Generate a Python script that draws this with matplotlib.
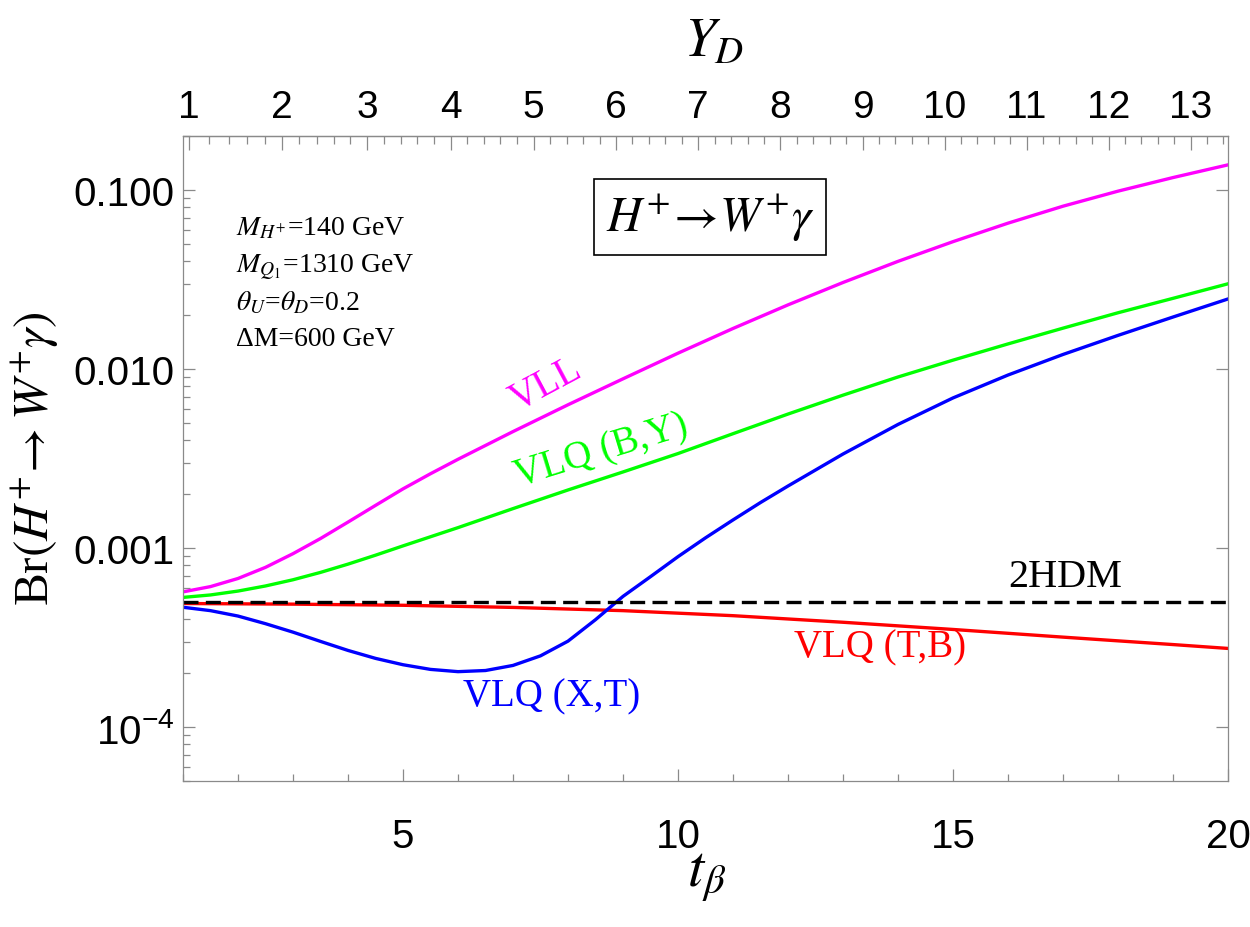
import numpy as np
import matplotlib
matplotlib.use("Agg")
import matplotlib.pyplot as plt
from matplotlib.ticker import FixedLocator, LogLocator, NullFormatter, FixedFormatter

# ---------------- data ----------------
t_vll = [1, 1.5, 2, 2.5, 3, 3.5, 4, 4.5, 5, 5.5, 6, 7, 8, 9, 10, 11, 12, 13, 14, 15, 16, 17, 18, 19, 20]
br_vll = [5.69e-4, 6.09e-4, 6.76e-4, 7.80e-4, 9.30e-4, 1.13e-3, 1.396e-3, 1.73e-3, 2.14e-3, 2.60e-3,
          3.13e-3, 4.47e-3, 6.31e-3, 8.81e-3, 1.225e-2, 1.683e-2, 2.28e-2, 3.04e-2, 3.99e-2,
          5.14e-2, 6.52e-2, 8.11e-2, 9.84e-2, 1.172e-1, 1.38e-1]

t_by = [1, 1.5, 2, 2.5, 3, 3.5, 4, 4.5, 5, 6, 7, 8, 9, 10, 11, 12, 13, 14, 15, 16, 17, 18, 19, 20]
br_by = [5.3e-4, 5.47e-4, 5.75e-4, 6.14e-4, 6.65e-4, 7.31e-4, 8.13e-4, 9.12e-4, 1.028e-3, 1.30e-3,
         1.66e-3, 2.11e-3, 2.66e-3, 3.37e-3, 4.35e-3, 5.6e-3, 7.14e-3, 9.02e-3, 1.12e-2, 1.38e-2,
         1.69e-2, 2.06e-2, 2.48e-2, 2.99e-2]

t_xt = [1, 1.5, 2, 2.5, 3, 3.5, 4, 4.5, 5, 5.5, 6, 6.5, 7, 7.5, 8, 8.5, 9, 9.5, 10, 10.5, 11,
        11.5, 12, 13, 14, 15, 16, 17, 18, 19, 20]
br_xt = [4.67e-4, 4.47e-4, 4.17e-4, 3.78e-4, 3.39e-4, 3.01e-4, 2.68e-4, 2.42e-4, 2.23e-4, 2.10e-4,
         2.04e-4, 2.07e-4, 2.21e-4, 2.50e-4, 3.02e-4, 3.98e-4, 5.37e-4, 6.92e-4, 8.95e-4, 1.14e-3,
         1.435e-3, 1.795e-3, 2.22e-3, 3.35e-3, 4.90e-3, 6.89e-3, 9.25e-3, 1.205e-2, 1.54e-2, 1.95e-2,
         2.46e-2]

t_tb = [1, 3, 5, 7, 9, 11, 13, 15, 17, 19, 20]
br_tb = [4.90e-4, 4.86e-4, 4.79e-4, 4.66e-4, 4.47e-4, 4.19e-4, 3.85e-4, 3.51e-4, 3.18e-4, 2.89e-4, 2.75e-4]

t_2hdm = [1, 20]
br_2hdm = [5.0e-4, 5.0e-4]

x_major = [5, 10, 15, 20]
y_major = [1e-4, 1e-3, 1e-2, 1e-1]
y_labels = [r"$\mathregular{10^{-4}}$", "0.001", "0.010", "0.100"]
yd_major = list(range(1, 14))

# ---------------- style ----------------
plt.rcParams["mathtext.fontset"] = "stix"
plt.rcParams["font.family"] = ["Liberation Serif", "DejaVu Serif"]

GRAY = "#8a8a8a"
SANS = "Liberation Sans"

fig = plt.figure(figsize=(12.5, 9.28), dpi=100)
ax = fig.add_axes([183 / 1250, 1 - 782 / 928, 1045 / 1250, 645 / 928])
ax.set_yscale("log")
ax.set_xlim(1, 20)
ax.set_ylim(5e-5, 0.2)

lw = 2.4
ax.plot(t_vll, br_vll, color="#ff00ff", lw=lw)
ax.plot(t_by, br_by, color="#00ff00", lw=lw)
ax.plot(t_tb, br_tb, color="#ff0000", lw=lw)
ax.plot(t_xt, br_xt, color="#0000ff", lw=lw)
l2, = ax.plot(t_2hdm, br_2hdm, color="black", lw=lw)
l2.set_dashes([4.5, 2.2])

# ticks
ax.xaxis.set_major_locator(FixedLocator(x_major))
ax.xaxis.set_minor_locator(FixedLocator([v for v in range(1, 21) if v not in x_major]))
ax.yaxis.set_major_locator(FixedLocator(y_major))
ax.yaxis.set_major_formatter(FixedFormatter(y_labels))
ax.yaxis.set_minor_locator(LogLocator(base=10, subs=np.arange(2, 10)))
ax.yaxis.set_minor_formatter(NullFormatter())

ax.tick_params(which="both", direction="in", color=GRAY, width=0.9,
               labelfontfamily=SANS, labelsize=29)
ax.tick_params(which="major", length=8.6)
ax.tick_params(which="minor", length=5)
ax.tick_params(axis="y", right=True, labelright=False, pad=6)
ax.tick_params(axis="x", top=False, pad=26)
for s in ax.spines.values():
    s.set_color(GRAY)
    s.set_linewidth(0.9)

# top axis  Y_D
k = 0.672
def fwd(t):
    t = np.asarray(t, dtype=float)
    return k * np.sqrt(1 + t ** 2)
def inv(y):
    y = np.asarray(y, dtype=float)
    return np.sqrt(np.clip((y / k) ** 2 - 1, 0, None))

sec = ax.secondary_xaxis("top", functions=(fwd, inv))
sec.xaxis.set_major_locator(FixedLocator(yd_major))
yd_minor = [round(1 + 0.2 * i, 2) for i in range(63) if i % 5 != 0]
sec.xaxis.set_minor_locator(FixedLocator(yd_minor))
sec.tick_params(which="both", direction="in", color=GRAY, width=0.9,
                labelfontfamily=SANS, labelsize=28, pad=8)
sec.tick_params(which="major", length=10)
sec.tick_params(which="minor", length=5.5)
sec.spines["top"].set_color(GRAY)
sec.spines["top"].set_linewidth(0.9)

# axis labels
fig.text(35 / 1250, 1 - 459 / 928, r"Br$(H^{+}\!\rightarrow W^{+}\gamma)$",
         rotation=90, ha="center", va="center", fontsize=35.5)
fig.text(707 / 1250, 1 - 878 / 928, r"$t_{\beta}$", ha="center", va="center", fontsize=42)
fig.text(714 / 1250, 1 - 42 / 928, r"$Y_{D}$", ha="center", va="center", fontsize=40)

# parameter block
params = [r"$M_{H^{+}}$=140 GeV", r"$M_{Q_1}$=1310 GeV",
          r"$\theta_U$=$\theta_D$=0.2", "ΔM=600 GeV"]
base_px = [235, 273, 310, 346]
for txt, yb in zip(params, base_px):
    ax.text((236 - 183) / 1045, (782 - yb) / 645, txt, transform=ax.transAxes,
            ha="left", va="baseline", fontsize=20)

# process box
ax.text((710 - 183) / 1045, (782 - 218) / 645, r"$H^{+}\!\rightarrow\!W^{+}\gamma$",
        transform=ax.transAxes, ha="center", va="center", fontsize=35,
        bbox=dict(boxstyle="square,pad=0.25", fc="white", ec="black", lw=1.2))

# curve labels
ax.text(7.6, 8.2e-3, "VLL", color="#ff00ff", fontsize=28, rotation=28,
        ha="center", va="center", rotation_mode="anchor")
ax.text(8.6, 3.5e-3, "VLQ (B,Y)", color="#00ff00", fontsize=28, rotation=17,
        ha="center", va="center", rotation_mode="anchor")
ax.text(7.71, 1.49e-4, "VLQ (X,T)", color="#0000ff", fontsize=28, ha="center", va="center")
ax.text(13.67, 2.8e-4, "VLQ (T,B)", color="#ff0000", fontsize=28, ha="center", va="center")
ax.text(17.04, 6.9e-4, "2HDM", color="black", fontsize=29, ha="center", va="center")

fig.savefig("out.png", dpi=100)
